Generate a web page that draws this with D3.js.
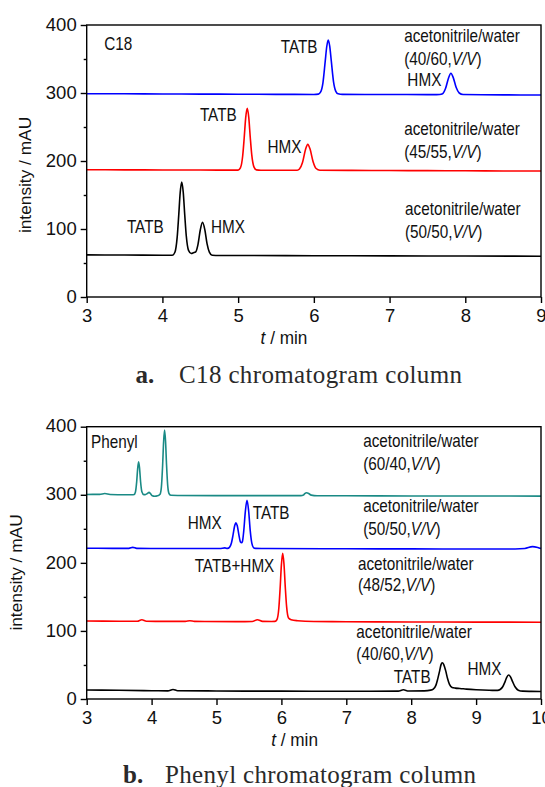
<!DOCTYPE html>
<html>
<head>
<meta charset="utf-8">
<script src="https://cdn.jsdelivr.net/npm/d3@7"></script>
<style>
  html, body { margin: 0; padding: 0; background: #fff; }
  svg { display: block; }
</style>
</head>
<body>
<svg id="fig" width="545" height="787"></svg>
<script>
// ---- Chromatogram traces: [retention time / min, intensity / mAU] ----

// C18 column, acetonitrile/water 40/60
const c18Acn40 = [
  [3.00, 299.0], [3.50, 298.8], [4.00, 298.6], [4.50, 298.4], [5.00, 298.2], [5.50, 298.0],
  [6.00, 297.9], [6.06, 298.3], [6.09, 301.5], [6.12, 315.0], [6.15, 346.5], [6.17, 368.0],
  [6.19, 378.0], [6.21, 368.5], [6.23, 347.5], [6.26, 316.5], [6.29, 302.5], [6.32, 298.8],
  [6.38, 298.0], [7.00, 297.8], [7.50, 297.6], [7.62, 297.6], [7.66, 297.8], [7.70, 299.0],
  [7.74, 307.0], [7.78, 322.5], [7.81, 329.0], [7.84, 323.0], [7.88, 308.0], [7.92, 300.0],
  [7.97, 297.8], [8.50, 297.3], [9.00, 297.0]
];
// C18 column, acetonitrile/water 45/55
const c18Acn45 = [
  [3.00, 187.2], [3.50, 187.0], [4.00, 186.8], [4.50, 186.7], [4.95, 186.6], [5.00, 186.6],
  [5.03, 189.9], [5.06, 207.4], [5.08, 233.8], [5.10, 263.8], [5.12, 277.5], [5.14, 264.5],
  [5.16, 235.0], [5.18, 209.0], [5.21, 191.0], [5.24, 187.0], [5.30, 186.5], [5.78, 186.4],
  [5.81, 188.2], [5.85, 197.8], [5.89, 217.0], [5.92, 224.5], [5.95, 217.5], [5.99, 199.0],
  [6.03, 189.0], [6.08, 186.5], [6.50, 186.2], [7.00, 186.0], [7.50, 185.8], [8.00, 185.6],
  [8.50, 185.4], [9.00, 185.3]
];
// C18 column, acetonitrile/water 50/50
const c18Acn50 = [
  [3.00, 62.0], [3.50, 61.7], [4.00, 61.5], [4.13, 61.4], [4.165, 65.8], [4.195, 88.0],
  [4.215, 119.3], [4.235, 153.6], [4.255, 169.0], [4.275, 154.0], [4.295, 120.5], [4.315, 90.0],
  [4.345, 68.5], [4.38, 64.0], [4.41, 65.0], [4.44, 66.5], [4.47, 77.5], [4.50, 98.5],
  [4.53, 110.0], [4.56, 99.0], [4.59, 78.0], [4.62, 66.0], [4.66, 61.3], [4.75, 61.0],
  [5.00, 61.0], [6.00, 60.7], [7.00, 60.5], [8.00, 60.2], [9.00, 60.0]
];

// Phenyl column, acetonitrile/water 60/40
const phenylAcn60 = [
  [3.00, 300.5], [3.20, 300.6], [3.28, 301.8], [3.36, 300.4], [3.60, 300.0], [3.70, 300.0],
  [3.73, 300.3], [3.75, 303.7], [3.77, 319.0], [3.785, 338.0], [3.80, 348.5], [3.815, 338.5],
  [3.83, 319.5], [3.85, 304.5], [3.88, 300.2], [3.91, 300.5], [3.94, 302.2], [3.96, 303.5],
  [3.98, 302.0], [4.01, 298.5], [4.05, 297.8], [4.09, 298.5], [4.13, 300.8], [4.15, 310.4],
  [4.17, 343.4], [4.185, 378.0], [4.20, 395.0], [4.215, 378.5], [4.23, 344.5], [4.25, 311.5],
  [4.27, 301.5], [4.30, 299.2], [4.40, 299.0], [5.00, 298.8], [6.00, 298.7], [6.30, 298.7],
  [6.34, 299.6], [6.36, 301.8], [6.39, 303.0], [6.42, 301.8], [6.46, 299.5], [6.55, 298.6],
  [7.00, 298.5], [8.00, 298.3], [9.00, 298.2], [10.00, 298.0]
];
// Phenyl column, acetonitrile/water 50/50
const phenylAcn50 = [
  [3.00, 221.5], [3.40, 221.3], [3.65, 221.3], [3.71, 222.8], [3.77, 221.3], [4.50, 221.0],
  [5.05, 221.0], [5.13, 222.0], [5.17, 221.2], [5.20, 222.7], [5.23, 229.2], [5.255, 241.0],
  [5.28, 254.4], [5.30, 259.0], [5.32, 254.5], [5.345, 241.1], [5.37, 230.5], [5.385, 229.5],
  [5.40, 231.5], [5.42, 247.0], [5.445, 276.0], [5.47, 292.0], [5.495, 276.5], [5.52, 247.0],
  [5.545, 228.5], [5.57, 222.5], [5.60, 221.3], [5.80, 221.0], [7.00, 220.7], [8.00, 220.5],
  [9.00, 220.3], [9.60, 220.3], [9.75, 221.0], [9.87, 223.8], [9.95, 222.5], [10.00, 221.0]
];
// Phenyl column, acetonitrile/water 48/52
const phenylAcn48 = [
  [3.00, 114.5], [3.50, 114.3], [3.78, 114.2], [3.85, 116.5], [3.92, 114.3], [4.20, 114.0],
  [4.52, 114.0], [4.59, 115.0], [4.66, 114.0], [5.30, 113.7], [5.55, 113.8], [5.63, 116.5],
  [5.71, 114.0], [5.85, 113.8], [5.90, 114.0], [5.93, 116.4], [5.96, 133.0], [5.98, 162.0],
  [6.00, 197.0], [6.02, 214.0], [6.04, 198.0], [6.06, 164.0], [6.08, 136.0], [6.11, 119.0],
  [6.15, 116.5], [6.25, 115.0], [6.50, 113.8], [7.00, 113.5], [8.00, 113.2], [9.00, 113.0],
  [10.00, 112.7]
];
// Phenyl column, acetonitrile/water 40/60
const phenylAcn40 = [
  [3.00, 13.3], [3.50, 12.8], [4.00, 12.2], [4.25, 12.0], [4.33, 14.0], [4.40, 12.2],
  [5.00, 11.8], [6.00, 11.5], [7.00, 11.3], [7.80, 11.5], [7.88, 13.5], [7.96, 11.8],
  [8.20, 12.0], [8.30, 13.0], [8.34, 14.5], [8.38, 20.0], [8.41, 30.0], [8.44, 42.0],
  [8.46, 50.5], [8.48, 53.3], [8.50, 51.0], [8.53, 42.0], [8.56, 30.0], [8.59, 21.5],
  [8.63, 17.0], [8.68, 16.0], [8.75, 15.5], [8.85, 14.5], [9.00, 13.5], [9.20, 12.8],
  [9.33, 12.7], [9.37, 14.0], [9.41, 18.0], [9.44, 24.0], [9.47, 31.5], [9.50, 35.2],
  [9.53, 32.5], [9.56, 26.0], [9.60, 18.0], [9.65, 13.0], [9.72, 11.5], [9.85, 11.2],
  [10.00, 11.0]
];

// ---- Axis ticks and text ----
const c18TimeTicks = [3, 4, 5, 6, 7, 8, 9];
const phenylTimeTicks = [3, 4, 5, 6, 7, 8, 9, 10];
const intensityTicks = [0, 100, 200, 300, 400];
const intensityMinorTicks = [50, 150, 250, 350];
const mobilePhase = "acetonitrile/water";
const c18Ratios = ["40/60", "45/55", "50/50"];
const phenylRatios = ["60/40", "50/50", "48/52", "40/60"];
const compounds = ["TATB", "HMX", "TATB+HMX"];
const columnNames = ["C18", "Phenyl"];
const captionTags = ["a.", "b."];
const captionTexts = ["C18 chromatogram column", "Phenyl chromatogram column"];

const SANS = '"Liberation Sans", Arial, sans-serif';
const SERIF = '"Liberation Serif", "Times New Roman", serif';
const svg = d3.select("#fig");

// Annotation text, horizontally condensed like the plotting font
function addText(g, px, py, parts, opt = {}) {
  const sx = opt.sx ?? 0.85;
  const t = g.append("g")
    .attr("transform", `translate(${px},${py}) scale(${sx},1)`)
    .append("text")
    .attr("font-family", SANS)
    .attr("font-size", opt.size ?? 18)
    .attr("fill", "#111")
    .attr("text-anchor", opt.anchor ?? "start");
  parts.forEach(p => {
    t.append("tspan").text(p.text).attr("font-style", p.italic ? "italic" : null);
  });
  return t;
}
const ratioParts = r => [{ text: `(${r},` }, { text: "V/V", italic: true }, { text: ")" }];

function drawPanel(cfg) {
  const x = d3.scaleLinear().domain([3, cfg.tMax]).range([86.7, 541]);
  const y = d3.scaleLinear().domain([0, 400]).range([cfg.bottom, cfg.top]);
  const g = svg.append("g");

  // traces
  const line = d3.line().x(d => x(d[0])).y(d => y(d[1])).curve(d3.curveMonotoneX);
  cfg.traces.forEach(tr => {
    g.append("path").datum(tr.data)
      .attr("d", line)
      .attr("fill", "none")
      .attr("stroke", tr.color)
      .attr("stroke-width", 1.6)
      .attr("stroke-linejoin", "round");
  });

  // y axis: major + minor ticks
  const yAxis = g.append("g").attr("transform", `translate(${x(3)},0)`)
    .call(d3.axisLeft(y).tickValues(intensityTicks).tickSize(6).tickPadding(4));
  g.append("g").attr("transform", `translate(${x(3)},0)`)
    .call(d3.axisLeft(y).tickValues(intensityMinorTicks).tickSize(3).tickFormat(""));
  // x axis
  g.append("g").attr("transform", `translate(0,${cfg.bottom})`)
    .call(d3.axisBottom(x).tickValues(cfg.timeTicks).tickSize(6).tickPadding(5.4).tickFormat(d3.format("d")));

  g.selectAll(".domain").remove();
  g.selectAll(".tick line").attr("stroke", "#000").attr("stroke-width", 1.4);
  g.selectAll(".tick text").attr("font-family", SANS).attr("font-size", 18.5).attr("fill", "#111");
  yAxis.selectAll(".tick text").attr("dy", "0.28em");

  // frame
  g.append("rect")
    .attr("x", x(3)).attr("y", y(400))
    .attr("width", x(cfg.tMax) - x(3)).attr("height", y(0) - y(400))
    .attr("fill", "none").attr("stroke", "#000").attr("stroke-width", 1.4);

  // axis titles
  g.append("text")
    .attr("transform", `translate(${cfg.yTitleX},${cfg.yTitleY}) rotate(-90)`)
    .attr("text-anchor", "middle")
    .attr("font-family", SANS).attr("font-size", 17.3).attr("fill", "#111")
    .text("intensity / mAU");
  addText(g, x(cfg.xTitleT), cfg.bottom + 47, [{ text: "t", italic: true }, { text: " / min" }],
    { anchor: "middle", size: 18.5, sx: 0.93 });

  // annotations placed in data coordinates
  cfg.labels.forEach(l => addText(g, x(l.t), y(l.v), l.parts));

  // panel caption
  g.append("text")
    .attr("x", cfg.captionTagX).attr("y", cfg.captionY)
    .attr("font-family", SERIF).attr("font-size", 25).attr("font-weight", "bold").attr("fill", "#2a2a2a")
    .text(cfg.captionTag);
  g.append("text")
    .attr("x", cfg.captionX).attr("y", cfg.captionY)
    .attr("font-family", SERIF).attr("font-size", 25).attr("fill", "#2a2a2a")
    .attr("textLength", cfg.captionLen).attr("lengthAdjust", "spacing")
    .text(cfg.captionText);
}

// ---- (a) C18 column ----
drawPanel({
  top: 25, bottom: 297, tMax: 9, timeTicks: c18TimeTicks,
  traces: [
    { data: c18Acn40, color: "#0000ff" },
    { data: c18Acn45, color: "#ff0000" },
    { data: c18Acn50, color: "#000000" }
  ],
  labels: [
    { t: 3.232, v: 363.7, parts: [{ text: columnNames[0] }] },
    { t: 5.563, v: 358.8, parts: [{ text: compounds[0] }] },
    { t: 7.193, v: 375.6, parts: [{ text: mobilePhase }] },
    { t: 7.193, v: 341.8, parts: ratioParts(c18Ratios[0]) },
    { t: 7.235, v: 309.7, parts: [{ text: compounds[1] }] },
    { t: 4.495, v: 258.2, parts: [{ text: compounds[0] }] },
    { t: 5.389, v: 211.6, parts: [{ text: compounds[1] }] },
    { t: 7.193, v: 238.4, parts: [{ text: mobilePhase }] },
    { t: 7.193, v: 204.6, parts: ratioParts(c18Ratios[1]) },
    { t: 3.531, v: 94.0, parts: [{ text: compounds[0] }] },
    { t: 4.642, v: 94.0, parts: [{ text: compounds[1] }] },
    { t: 7.204, v: 120.7, parts: [{ text: mobilePhase }] },
    { t: 7.204, v: 86.9, parts: ratioParts(c18Ratios[2]) }
  ],
  yTitleX: 31, yTitleY: 175, xTitleT: 5.606,
  captionTag: captionTags[0], captionText: captionTexts[0],
  captionTagX: 135.6, captionX: 179, captionLen: 283, captionY: 383
});

// ---- (b) Phenyl column ----
drawPanel({
  top: 426.7, bottom: 699, tMax: 10, timeTicks: phenylTimeTicks,
  traces: [
    { data: phenylAcn60, color: "#1a8a85" },
    { data: phenylAcn50, color: "#0000ff" },
    { data: phenylAcn48, color: "#ff0000" },
    { data: phenylAcn40, color: "#000000" }
  ],
  labels: [
    { t: 3.066, v: 369.3, parts: [{ text: columnNames[1] }] },
    { t: 7.26, v: 370.6, parts: [{ text: mobilePhase }] },
    { t: 7.26, v: 336.9, parts: ratioParts(phenylRatios[0]) },
    { t: 7.26, v: 275.2, parts: [{ text: mobilePhase }] },
    { t: 7.26, v: 241.4, parts: ratioParts(phenylRatios[1]) },
    { t: 4.556, v: 249.0, parts: [{ text: compounds[1] }] },
    { t: 5.558, v: 263.7, parts: [{ text: compounds[0] }] },
    { t: 7.18, v: 189.6, parts: [{ text: mobilePhase }] },
    { t: 7.18, v: 158.1, parts: ratioParts(phenylRatios[2]) },
    { t: 4.663, v: 186.3, parts: [{ text: compounds[2] }] },
    { t: 7.154, v: 89.1, parts: [{ text: mobilePhase }] },
    { t: 7.154, v: 57.9, parts: ratioParts(phenylRatios[3]) },
    { t: 7.732, v: 23.3, parts: [{ text: compounds[0] }] },
    { t: 8.867, v: 35.7, parts: [{ text: compounds[1] }] }
  ],
  yTitleX: 22, yTitleY: 572.5, xTitleT: 6.203,
  captionTag: captionTags[1], captionText: captionTexts[1],
  captionTagX: 123, captionX: 165, captionLen: 311, captionY: 783
});
</script>
</body>
</html>
